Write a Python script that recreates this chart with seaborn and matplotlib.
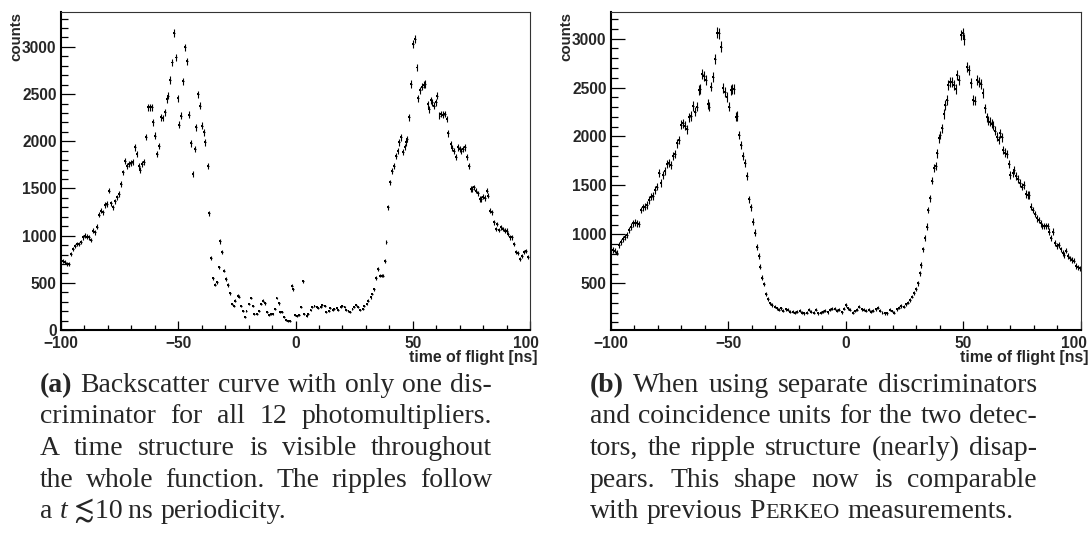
import numpy as np
import pandas as pd
import matplotlib
matplotlib.use("Agg")
import matplotlib.pyplot as plt
import seaborn as sns
from matplotlib.ticker import FixedLocator, MultipleLocator
from matplotlib.transforms import ScaledTranslation

# ---------------- data ----------------
tof_a = [-99.3,-98.4,-97.6,-96.7,-95.6,-94.7,-93.9,-93.0,-92.2,-91.5,
-90.6,-89.8,-88.9,-88.1,-87.2,-86.4,-85.5,-84.7,-83.8,-83.0,
-82.2,-81.4,-80.5,-79.7,-78.8,-78.0,-77.1,-76.3,-75.4,-74.3,
-73.4,-72.6,-71.7,-70.9,-70.0,-69.5,-68.6,-67.8,-66.9,-66.2,
-65.3,-64.6,-63.8,-62.9,-62.1,-61.2,-60.7,-59.8,-59.1,-58.2,
-57.4,-56.7,-55.8,-55.0,-54.4,-53.6,-52.7,-51.8,-51.0,-50.3,
-49.6,-48.7,-47.9,-47.0,-46.3,-45.6,-44.7,-43.9,-43.0,-42.3,
-41.6,-40.8,-39.9,-39.1,-38.4,-37.5,-36.8,-35.9,-35.2,-34.4,
-33.5,-32.8,-32.0,-31.2,-30.4,-29.7,-28.8,-28.0,-27.1,-26.4,
-25.6,-24.7,-24.0,-23.2,-22.4,-21.6,-20.9,-19.9,-19.0,-18.3,
-17.5,-16.5,-15.6,-14.8,-13.8,-13.1,-12.2,-11.4,-10.5,-9.8,
-8.9,-8.1,-7.2,-6.5,-5.7,-4.8,-4.0,-3.1,-2.3,-1.6,
-1.0,-0.3,0.6,1.4,2.3,3.1,3.8,4.7,5.5,6.4,
7.2,8.1,9.0,9.8,10.7,11.5,12.4,13.2,14.1,14.9,
15.8,16.6,17.5,18.3,19.2,20.0,20.9,21.7,22.6,23.4,
24.3,25.1,26.0,26.8,27.7,28.6,29.4,30.3,31.1,32.0,
32.8,33.5,34.2,35.1,35.9,36.8,37.4,38.1,38.8,39.6,
40.5,41.2,41.9,42.8,43.5,44.2,45.0,45.7,46.5,47.2,
47.7,48.4,49.3,50.0,50.9,51.6,52.4,53.1,53.8,54.6,
55.4,56.3,57.0,57.7,58.4,59.2,60.0,60.5,61.4,62.2,
62.9,63.6,64.4,65.2,66.1,66.9,67.6,68.5,69.2,70.0,
70.7,71.6,72.3,73.2,74.0,74.7,75.4,76.1,77.0,77.8,
78.6,79.3,80.0,80.8,81.5,82.2,83.1,83.8,84.5,85.4,
86.1,86.9,87.6,88.5,89.2,90.1,90.8,91.6,92.5,93.2,
94.0,94.9,95.7,96.6,97.4,98.3,99.2]

counts_a = [734,717,699,699,805,858,890,911,911,929,
982,999,989,982,953,1052,1035,1095,1222,1264,
1246,1324,1335,1476,1342,1299,1363,1405,1441,1547,
1670,1794,1741,1758,1766,1776,1935,1864,1741,1695,
1758,1776,2048,2359,2359,2359,2200,2059,1864,1953,
2253,2246,2306,2447,2482,2648,2835,3143,2888,2458,
2175,2270,2634,2994,2846,2281,1977,1653,1917,2147,
2500,2376,2165,2094,1988,1741,1236,763,547,480,
505,664,939,823,629,540,477,388,275,258,
311,364,353,258,205,141,205,275,339,258,
169,169,205,275,311,282,187,162,169,169,
222,339,282,187,187,141,106,92,92,470,
434,162,152,162,247,516,169,152,169,212,
240,258,247,233,247,268,251,187,205,233,
215,222,233,212,240,258,240,212,205,187,
222,240,268,247,212,222,258,275,311,346,
381,434,551,646,576,576,576,727,929,1299,
1564,1688,1741,1847,1900,1988,2041,1882,1942,1988,
2023,2253,2606,3030,3083,2782,2458,2542,2578,2599,
2606,2394,2341,2436,2412,2376,2412,2482,2270,2288,
2281,2288,2235,2083,1970,1928,1900,1829,1935,1917,
1900,1917,1935,1829,1741,1494,1494,1511,1476,1448,
1388,1388,1412,1398,1476,1423,1264,1246,1141,1070,
1123,1059,1088,1070,1052,1052,1017,982,982,911,
823,812,752,787,823,840,770]

tof_b = [-99.3,-98.4,-97.6,-96.7,-95.9,-95.0,-94.2,-93.3,-92.5,-91.6,
-90.8,-89.9,-89.1,-88.2,-87.4,-86.5,-85.7,-84.8,-84.0,-83.1,
-82.3,-81.4,-80.6,-79.7,-78.9,-78.0,-77.2,-76.3,-75.5,-74.6,
-73.7,-72.9,-72.0,-71.2,-70.3,-69.5,-68.6,-67.8,-66.9,-66.1,
-65.2,-64.4,-63.5,-62.7,-62.1,-61.3,-60.4,-59.6,-58.7,-58.1,
-57.3,-56.4,-55.6,-54.7,-54.2,-53.3,-52.5,-51.6,-50.8,-49.9,
-49.1,-48.5,-47.6,-46.8,-46.2,-45.4,-44.5,-43.7,-42.8,-42.2,
-41.4,-40.5,-39.7,-38.8,-38.0,-37.1,-36.4,-35.7,-34.9,-34.0,
-33.0,-32.3,-31.3,-30.3,-29.5,-28.5,-27.6,-26.6,-25.6,-24.6,
-23.7,-22.7,-21.7,-20.7,-19.7,-18.7,-17.7,-16.7,-15.7,-14.7,
-13.7,-12.7,-11.7,-10.7,-9.8,-8.8,-7.8,-6.8,-5.8,-4.8,
-3.8,-2.8,-1.8,-0.8,0.0,1.0,1.9,2.9,3.9,4.9,
5.7,6.7,7.7,8.7,9.7,10.7,11.7,12.7,13.7,14.7,
15.6,16.6,17.6,18.6,19.6,20.6,21.6,22.6,23.6,24.6,
25.6,26.6,27.4,28.3,29.1,29.9,30.7,31.4,32.1,32.8,
33.5,34.4,35.1,35.9,36.6,37.5,38.2,38.9,39.6,40.3,
41.0,41.6,42.3,42.9,43.7,44.5,45.2,45.9,46.7,47.4,
48.1,48.9,49.7,50.4,51.4,52.3,53.4,54.2,55.0,55.8,
56.7,57.4,58.2,59.1,59.9,60.6,61.3,62.1,62.8,63.6,
64.3,65.0,65.7,66.4,67.0,67.9,68.6,69.3,70.1,71.0,
71.7,72.4,73.3,74.1,75.0,75.7,76.5,77.4,78.1,78.8,
79.6,80.4,81.2,82.1,82.9,83.6,84.3,85.2,85.9,86.7,
87.4,88.3,89.2,89.9,90.7,91.4,92.3,93.0,93.8,94.5,
95.4,96.2,97.1,97.9,98.8,99.7]

counts_b = [841,834,813,892,926,950,977,994,1045,1079,
1113,1120,1113,1106,1249,1277,1283,1300,1352,1386,
1392,1454,1488,1624,1522,1607,1651,1719,1726,1709,
1801,1822,1931,1965,2118,2135,2108,2074,2196,2210,
2312,2254,2305,2475,2482,2639,2618,2578,2332,2305,
2510,2612,2789,3061,3055,2918,2493,2458,2401,2305,
2475,2482,2482,2203,2210,2016,1914,1801,1733,1597,
1358,1277,1130,1018,868,779,670,558,490,391,
337,296,279,262,245,228,245,221,234,228,
210,210,200,210,221,200,193,200,228,210,
200,228,193,200,210,221,204,228,238,241,
221,228,204,238,279,245,228,200,217,228,
262,234,228,221,228,210,221,234,251,221,
200,193,193,228,217,200,234,251,268,262,
285,302,330,364,398,439,500,602,687,847,
960,1079,1249,1369,1549,1675,1699,1828,1982,2016,
2084,2230,2322,2373,2527,2561,2561,2527,2482,2629,
2578,3037,3055,2993,2714,2680,2550,2373,2366,2578,
2561,2537,2441,2288,2196,2162,2152,2128,2108,2060,
1999,1965,2033,1992,1862,1835,1822,1719,1607,1631,
1658,1597,1563,1522,1488,1505,1413,1403,1403,1283,
1249,1208,1164,1147,1113,1086,1086,1086,1086,1028,
960,1028,909,881,892,847,807,790,834,779,
755,738,732,677,663,653]

XTICKS = [-100, -50, 0, 50, 100]
YTICKS_A = [0, 500, 1000, 1500, 2000, 2500, 3000]
YTICKS_B = [500, 1000, 1500, 2000, 2500, 3000]
XLABEL = "time of flight [ns]"
YLABEL = "counts"

# markup: *bold*, _italic, ^small caps, $math$, '|' joins segments of one word
CAP_A = ["*(a)* Backscatter curve with only one dis-",
         "criminator for all 12 photomultipliers.",
         "A time structure is visible throughout",
         "the whole function. The ripples follow",
         "a _t|$\\lesssim$|10\u2009ns periodicity."]
CAP_B = ["*(b)* When using separate discriminators",
         "and coincidence units for the two detec-",
         "tors, the ripple structure (nearly) disap-",
         "pears. This shape now is comparable",
         "with previous P|^ERKEO measurements."]

# ---------------- style ----------------
sns.set_style("ticks")
plt.rcParams["font.family"] = ["Liberation Sans", "DejaVu Sans"]
plt.rcParams["font.weight"] = "bold"
plt.rcParams["mathtext.fontset"] = "stix"
plt.rcParams["axes.unicode_minus"] = True

W, H = 1091, 533
fig = plt.figure(figsize=(W / 100, H / 100), dpi=100)


def px_rect(x0, y0, x1, y1):
    return [x0 / W, 1 - y1 / H, (x1 - x0) / W, (y1 - y0) / H]


ax_a = fig.add_axes(px_rect(61, 12, 530, 330))
ax_b = fig.add_axes(px_rect(611, 12, 1080.7, 330))

TICK_FS = 11.2
LABEL_FS = 11.4


def draw_panel(ax, tof, counts, yticks, ylim, err_scale, last_shift_px):
    df = pd.DataFrame({"tof": tof, "counts": counts})
    df["err"] = np.sqrt(df["counts"]) * err_scale
    ax.errorbar(df["tof"], df["counts"], yerr=df["err"], xerr=0.4, fmt="none",
                ecolor="black", elinewidth=0.8, capsize=0)
    sns.scatterplot(data=df, x="tof", y="counts", ax=ax, s=2, color="black",
                    edgecolor="none", marker="s", legend=False)
    ax.set_xlim(-100, 100)
    ax.set_ylim(*ylim)
    ax.xaxis.set_major_locator(FixedLocator(XTICKS))
    ax.xaxis.set_minor_locator(MultipleLocator(10))
    ax.yaxis.set_major_locator(FixedLocator(yticks))
    ax.yaxis.set_minor_locator(MultipleLocator(100))
    ax.tick_params(which="both", direction="in", top=False, right=False,
                   width=0.9, color="black", labelsize=TICK_FS)
    ax.tick_params(axis="y", which="major", length=10, pad=3.2)
    ax.tick_params(axis="y", which="minor", length=5)
    ax.tick_params(axis="x", which="major", length=6.8, pad=4)
    ax.tick_params(axis="x", which="minor", length=3.4)
    for lab in ax.get_xticklabels() + ax.get_yticklabels():
        lab.set_fontweight("bold")
    # the last x tick label sits a little to the left, as in the ROOT output
    last = ax.xaxis.get_major_ticks()[-1].label1
    last.set_transform(last.get_transform()
                       + ScaledTranslation(-last_shift_px / 100, 0, fig.dpi_scale_trans))
    for s in ("left", "bottom"):
        ax.spines[s].set_linewidth(1.5)
        ax.spines[s].set_color("black")
    for s in ("top", "right"):
        ax.spines[s].set_linewidth(0.8)
        ax.spines[s].set_color("#333333")
    ax.set_xlabel(XLABEL, loc="right", fontsize=LABEL_FS, fontweight="bold")
    ax.xaxis.set_label_coords(1.017, -0.063)
    ax.set_ylabel(YLABEL, loc="top", fontsize=10.8, fontweight="bold")
    ax.yaxis.set_label_coords(-0.080, 1.0)


draw_panel(ax_a, tof_a, counts_a, YTICKS_A, (0, 3370), 0.75, 4)
draw_panel(ax_b, tof_b, counts_b, YTICKS_B, (23, 3272), 1.0, 7)

# ---------------- captions (justified) ----------------
SERIF = ["Liberation Serif", "DejaVu Serif"]
CAP_FS = 20.0


def seg_props(seg):
    base = dict(fontweight="normal", fontsize=CAP_FS, fontstyle="normal")
    if seg.startswith("*") and seg.endswith("*") and len(seg) > 1:
        base["fontweight"] = "bold"
        return seg[1:-1], base
    if seg.startswith("^"):
        base["fontsize"] = CAP_FS * 0.8
        return seg[1:], base
    if seg.startswith("_"):
        base["fontstyle"] = "italic"
        return seg[1:], base
    return seg, base


renderer = fig.canvas.get_renderer()


def text_width(t):
    return t.get_window_extent(renderer=renderer).width


def natural_space():
    a = fig.text(0, 0, "a a", family=SERIF, fontsize=CAP_FS, fontweight="normal")
    b = fig.text(0, 0, "aa", family=SERIF, fontsize=CAP_FS, fontweight="normal")
    w = text_width(a) - text_width(b)
    a.remove()
    b.remove()
    return w


SPACE = natural_space()


def layout_caption(lines, x0, x1, baselines):
    for i, (line, yb) in enumerate(zip(lines, baselines)):
        words = []
        for w in line.split(" "):
            segs = []
            for s in w.split("|"):
                txt, pr = seg_props(s)
                t = fig.text(0, 0, txt, family=SERIF, va="baseline", ha="left", **pr)
                segs.append((t, text_width(t)))
            words.append(segs)
        widths = [sum(wp for _, wp in segs) + 1.5 * (len(segs) - 1) for segs in words]
        if i == len(lines) - 1:
            gap = SPACE
        else:
            gap = max((x1 - x0 - sum(widths)) / (len(words) - 1), 2.0)
        x = x0
        for segs, ww in zip(words, widths):
            xx = x
            for t, wp in segs:
                t.set_position((xx / W, 1 - yb / H))
                xx += wp + 1.5
            x += ww + gap


BASELINES = [392, 423, 455, 487, 518]
layout_caption(CAP_A, 40, 492, BASELINES)
layout_caption(CAP_B, 590, 1037, BASELINES)

fig.savefig("out.png", dpi=100)
